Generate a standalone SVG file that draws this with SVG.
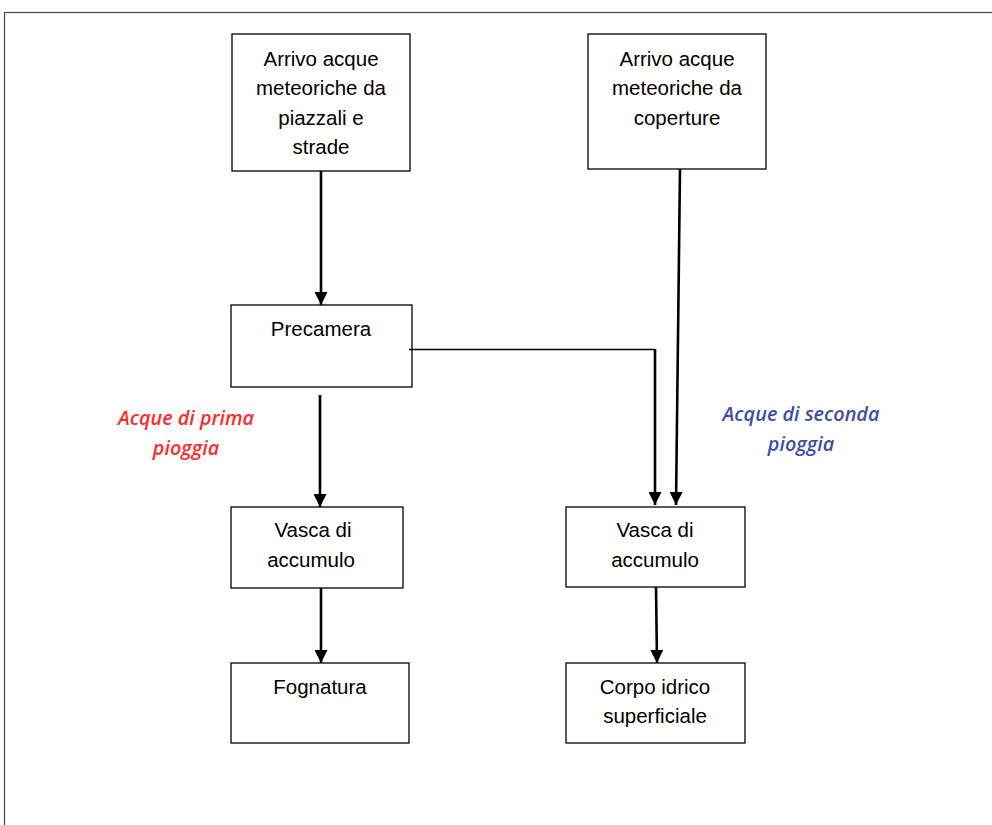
<svg xmlns="http://www.w3.org/2000/svg" width="992" height="825" viewBox="0 0 992 825">
<style>
.box{fill:#fff;stroke:#000;stroke-width:1.3}
.t{font-family:"Liberation Sans",Arial,sans-serif;font-size:20.5px;fill:#000;text-anchor:middle}
.lab{font-family:"Open Sans","Liberation Sans",sans-serif;font-size:19.8px;font-style:italic;font-weight:600;text-anchor:middle}
.c{stroke:#000;stroke-width:2.6;fill:none}
.thin{stroke:#000;stroke-width:1.3;fill:none}
</style>
<defs>
<marker id="ah" viewBox="0 0 13 13" refX="13" refY="6.5" markerWidth="13" markerHeight="13" markerUnits="userSpaceOnUse" orient="auto">
<path d="M0,0 L13,6.5 L0,13 Z" fill="#000"/>
</marker>
</defs>
<rect x="4.5" y="12.5" width="1000" height="830" fill="none" stroke="#444" stroke-width="1.2"/>
<g id="n1"><rect class="box" x="232" y="34" width="178" height="137"/>
<text class="t" x="321" y="66">Arrivo acque</text><text class="t" x="321" y="95">meteoriche da</text><text class="t" x="321" y="125">piazzali e</text><text class="t" x="321" y="154">strade</text></g>
<g id="n2"><rect class="box" x="588" y="34" width="178" height="135"/>
<text class="t" x="677" y="66">Arrivo acque</text><text class="t" x="677" y="95">meteoriche da</text><text class="t" x="677" y="125">coperture</text></g>
<g id="n3"><rect class="box" x="231" y="305" width="181" height="82"/>
<text class="t" x="321" y="336">Precamera</text></g>
<g id="n4"><rect class="box" x="231" y="507" width="172" height="81"/>
<text class="t" x="313" y="537">Vasca di</text><text class="t" x="311" y="567">accumulo</text></g>
<g id="n5"><rect class="box" x="231" y="663" width="178" height="80"/>
<text class="t" x="320" y="694">Fognatura</text></g>
<g id="n6"><rect class="box" x="566" y="507" width="179" height="80"/>
<text class="t" x="655" y="537">Vasca di</text><text class="t" x="655" y="567">accumulo</text></g>
<g id="n7"><rect class="box" x="566" y="663" width="179" height="80"/>
<text class="t" x="655" y="694">Corpo idrico</text><text class="t" x="655" y="723">superficiale</text></g>
<g id="labels">
<text class="lab" x="186" y="425" fill="#ff2a2a">Acque di prima</text>
<text class="lab" x="186" y="455" fill="#ff2a2a">pioggia</text>
<text class="lab" x="801" y="421" fill="#3b4ea6">Acque di seconda</text>
<text class="lab" x="801" y="451" fill="#3b4ea6">pioggia</text>
</g>
<g id="connectors">
<line class="c" x1="321" y1="171" x2="321" y2="305" marker-end="url(#ah)"/>
<line class="c" x1="320" y1="395" x2="320" y2="507" marker-end="url(#ah)"/>
<line class="c" x1="321" y1="588" x2="321" y2="663" marker-end="url(#ah)"/>
<line class="c" x1="656" y1="587" x2="657" y2="663" marker-end="url(#ah)"/>
<line class="c" x1="680" y1="169" x2="676" y2="505" marker-end="url(#ah)"/>
<path class="thin" d="M409,349.5 H655"/>
<line class="c" x1="655" y1="349" x2="655" y2="505" marker-end="url(#ah)"/>
</g>
</svg>
